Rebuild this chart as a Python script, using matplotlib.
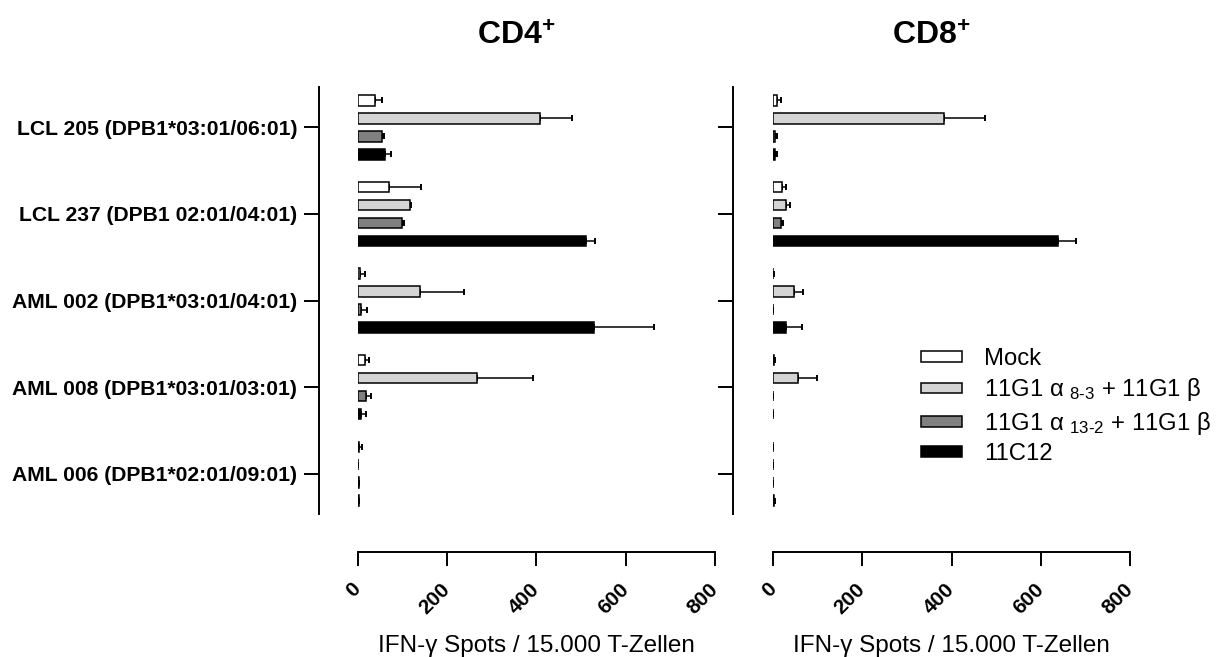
# IFN-gamma ELISpot: CD4+ / CD8+ T cells against target cell lines
import numpy as np
import matplotlib
matplotlib.use("Agg")
import matplotlib.pyplot as plt
from matplotlib.patches import Patch

plt.rcParams['font.family'] = ['Liberation Sans', 'DejaVu Sans']
plt.rcParams['mathtext.fontset'] = 'custom'
plt.rcParams['mathtext.rm'] = 'Liberation Sans'
plt.rcParams['mathtext.it'] = 'Liberation Sans:italic'
plt.rcParams['mathtext.bf'] = 'Liberation Sans:bold'

# -----------------------------
#  Data
# -----------------------------
targets = ['LCL 205 (DPB1*03:01/06:01)',
           'LCL 237 (DPB1 02:01/04:01)',
           'AML 002 (DPB1*03:01/04:01)',
           'AML 008 (DPB1*03:01/03:01)',
           'AML 006 (DPB1*02:01/09:01)']

series_labels = ['Mock',
                 r'11G1 α ${}_{\text{8-3}}$ + 11G1 β',
                 r'11G1 α ${}_{\text{13-2}}$ + 11G1 β',
                 '11C12']

# CD4+ means and upper error
cd4_mock = [40, 70, 5, 16, 3]
cd4_mock_err = [15, 72, 12, 10, 7]
cd4_a83 = [409, 117, 140, 268, 1]
cd4_a83_err = [71, 3, 98, 124, 0]
cd4_a132 = [55, 100, 8, 20, 3]
cd4_a132_err = [4, 3, 14, 11, 1]
cd4_11c12 = [61, 511, 530, 8, 3]
cd4_11c12_err = [13, 21, 134, 10, 1]

# CD8+ means and upper error
cd8_mock = [10, 20, 1, 3, 1]
cd8_mock_err = [8, 10, 1, 2, 0]
cd8_a83 = [384, 30, 46, 56, 1]
cd8_a83_err = [90, 7, 21, 43, 0]
cd8_a132 = [5, 17, 1, 1, 1]
cd8_a132_err = [3, 5, 0, 0, 0]
cd8_11c12 = [5, 638, 30, 1, 3]
cd8_11c12_err = [3, 42, 34, 0, 2]

xticks = [0, 200, 400, 600, 800]
colors = ['white', '#d4d4d4', '#808080', 'black']

# -----------------------------
#  Plot
# -----------------------------
fig = plt.figure(figsize=(12.25, 6.57), dpi=100)
W, H = 1225, 657


def px_axes(x0, x1, y0, y1):
    return fig.add_axes([x0 / W, 1 - y1 / H, (x1 - x0) / W, (y1 - y0) / H])


ax1 = px_axes(357.5, 715, 86.7, 513.5)
ax2 = px_axes(773, 1130, 86.7, 513.5)

offsets = [-0.311, -0.104, 0.104, 0.311]
y = np.arange(len(targets))


def draw_panel(ax, values, errors, spine_off, title, title_x):
    # spines first: set_position resets the tick objects
    for s in ['top', 'right']:
        ax.spines[s].set_visible(False)
    ax.spines['left'].set_position(('outward', spine_off))
    ax.spines['bottom'].set_position(('outward', 28))
    ax.spines['left'].set_linewidth(1.4)
    ax.spines['bottom'].set_linewidth(1.4)

    for i, (vals, errs) in enumerate(zip(values, errors)):
        ax.barh(y + offsets[i], vals, height=0.12, color=colors[i],
                edgecolor='black', linewidth=1.1, zorder=3)
        ax.errorbar(vals, y + offsets[i], xerr=[np.zeros(len(vals)), errs],
                    fmt='none', ecolor='black', elinewidth=1.1,
                    capsize=2.2, capthick=1.4, zorder=2)
    ax.set_ylim(4.46, -0.47)
    ax.set_xlim(0, 800)
    ax.set_yticks(y)
    ax.set_xticks(xticks)
    ax.tick_params(axis='y', length=10.8, width=1.4, pad=5)
    ax.tick_params(axis='x', length=10.2, width=1.4, pad=14)
    ax.set_xticklabels([str(t) for t in xticks], rotation=45, ha='right',
                       va='center', rotation_mode='anchor',
                       fontweight='bold', fontsize=15)
    ax.set_xlabel('IFN-γ Spots / 15.000 T-Zellen', fontsize=17.5, labelpad=13)
    fig.text(title_x / W, 1 - 45 / H, title, ha='center', va='baseline',
             fontsize=23, fontweight='bold')


draw_panel(ax1, [cd4_mock, cd4_a83, cd4_a132, cd4_11c12],
           [cd4_mock_err, cd4_a83_err, cd4_a132_err, cd4_11c12_err],
           27.7, r'CD4$^{\mathbf{+}}$', 516.5)
ax1.set_yticklabels(targets, fontweight='bold', fontsize=15.2)

draw_panel(ax2, [cd8_mock, cd8_a83, cd8_a132, cd8_11c12],
           [cd8_mock_err, cd8_a83_err, cd8_a132_err, cd8_11c12_err],
           28.8, r'CD8$^{\mathbf{+}}$', 931)
ax2.set_yticklabels([])

handles = [Patch(facecolor=c, edgecolor='black', linewidth=1.1) for c in colors]
fig.legend(handles, series_labels, loc='upper left',
           bbox_to_anchor=(921 / W, 1 - 348 / H), bbox_transform=fig.transFigure,
           frameon=False, fontsize=17.2, handlelength=1.7, handleheight=0.3,
           handletextpad=0.95, labelspacing=0.27, borderpad=0, borderaxespad=0)

fig.savefig('out.png', dpi=100)
